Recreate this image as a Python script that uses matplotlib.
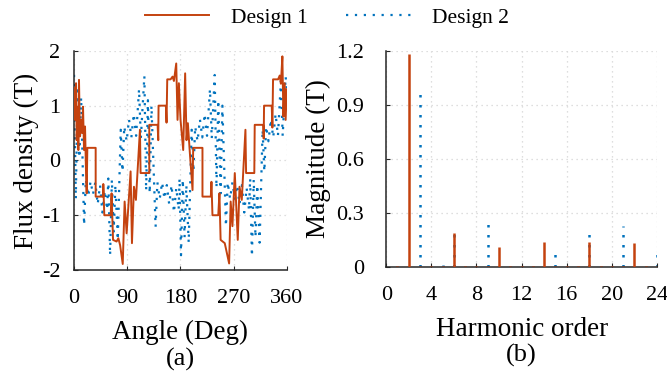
import matplotlib
matplotlib.use("Agg")
import matplotlib.pyplot as plt
from matplotlib.lines import Line2D

plt.rcParams['font.family'] = ['Liberation Serif', 'DejaVu Serif']
plt.rcParams['axes.unicode_minus'] = False

# design 1 (solid) air-gap flux density
d1_angle = [0, 1.7, 3.4, 4.5, 6.2, 7.3, 8.4, 10, 11.8, 13.5, 15.2, 16.9, 18.6, 20.3, 21.4,
            22.5, 36.6, 36.6, 49.5, 49.5, 51.2, 62, 63.5, 66, 72, 75, 78, 82.4, 85.6, 89,
            95.7, 98, 101.4, 104.7, 111.5, 112.6, 127.3, 127.3, 141.4, 142.5, 143, 155.4,
            156.5, 157.7, 163.3, 166.7, 169, 172.9, 175.1, 177.4, 180.2, 184.7, 188, 190.3,
            192.6, 196, 200.5, 201.6, 217.3, 217.3, 231.4, 232.5, 234.2, 244, 246, 248, 255,
            262.4, 265, 268, 272, 277, 280, 283.8, 290, 291.1, 305, 305.7, 320, 320.9, 321.5,
            334.5, 335.6, 336.7, 345.2, 348, 350, 352.5, 354.2, 356.4, 358, 360]
d1_flux = [1.32, 0.74, 1.41, 0.37, 0.98, 0.19, 1.47, 0.44, 0.74, 0.5, 0.98, 0.19, 0.62, -0.23, -0.6,
           0.23, 0.23, -0.66, -0.66, -0.43, -1.0, -1.0, -0.6, -1.45, -1.48, -1.42, -1.55, -1.89, -0.75, -1.33,
           -0.2, -1.51, -0.48, -0.72, 0.56, -0.23, -0.23, 0.65, 0.65, 0.37, 1.0, 1.0,
           0.69, 1.48, 1.48, 1.53, 1.45, 1.77, 0.74, 1.41, 0.74, 0.19, 1.59, 0.37,
           0.68, 0.13, -0.54, 0.23, 0.23, -0.66, -0.66, -0.39, -1.0, -1.0, -0.6, -1.45, -1.51,
           -1.88, -0.75, -1.2, -0.23, -1.45, -0.48, -0.72, 0.56, -0.23, -0.23, 0.65, 0.65, 0.4, 1.0,
           1.0, 0.6, 1.48, 1.48, 1.55, 1.4, 1.9, 0.8, 1.41, 0.74, 1.3]

# design 2 (dotted)
d2_angle = [0, 3, 6, 9, 12, 17, 20, 24, 28, 32, 36, 40, 44, 48, 52, 56, 58, 61, 64, 67, 70, 74,
            79, 82, 85, 89, 93, 97, 101, 105, 110, 113, 119,
            122, 125, 128, 131, 138, 141, 145, 149, 153, 157, 161, 165, 169, 173, 177, 178.5,
            181, 184, 187, 190, 194, 199, 202, 205, 209, 213, 217, 221, 225, 230, 233, 238,
            241, 244, 248, 251, 257, 260, 264, 268, 272, 276, 280, 284, 288, 292, 296, 298,
            301, 304, 307, 310, 314, 319, 322, 325, 329, 333, 337, 341, 345, 350, 353, 358, 360]
d2_flux = [1.56, -0.70, 1.35, 0.05, 1.15, -1.18, -0.35, -0.65, -0.38, -0.62, -0.40, -0.80, -0.45, -0.95, -0.55, -0.90, -0.33, -1.73, -0.35, -1.30, -0.45, -1.45,
           0.56, -0.20, 0.62, 0.35, 0.75, 0.42, 0.85, 0.45, 1.30, 0.40, 1.54,
           -0.55, 1.10, -0.60, 1.00, -1.21, -0.40, -0.70, -0.40, -0.70, -0.45, -0.80, -0.45, -0.95, -0.50, -0.90, -0.33,
           -1.73, -0.35, -1.40, -0.45, -1.50, 0.56, -0.20, 0.62, 0.35, 0.75, 0.42, 0.85, 0.45, 1.30, 0.40, 1.56,
           -0.50, 1.10, -0.60, 1.00, -1.20, -0.40, -0.70, -0.40, -0.70, -0.45, -0.80, -0.45, -0.95, -0.50, -0.90, -0.33,
           -1.75, -0.35, -1.40, -0.45, -1.50, 0.56, -0.20, 0.62, 0.35, 0.75, 0.42, 0.85, 0.45, 1.45, 0.45, 1.53, 1.30]

# harmonic spectrum
harmonic = list(range(25))
d1_mag = [0, 0.004, 1.18, 0.004, 0.008, 0.004, 0.19, 0.004, 0.008, 0.004, 0.11, 0.004, 0.008,
          0.004, 0.14, 0.004, 0.008, 0.004, 0.14, 0.004, 0.008, 0.004, 0.135, 0.004, 0.008]
d2_mag = [0, 0.004, 0.004, 0.99, 0.004, 0.012, 0.20, 0.004, 0.004, 0.27, 0.004, 0.008, 0.004,
          0.004, 0.004, 0.10, 0.004, 0.004, 0.19, 0.004, 0.004, 0.23, 0.004, 0.004, 0.10]

angle_ticks = [0, 90, 180, 270, 360]
flux_ticks = [-2, -1, 0, 1, 2]
order_ticks = [0, 4, 8, 12, 16, 20, 24]
mag_ticks = [0, 0.3, 0.6, 0.9, 1.2]
mag_labels = ['0', '0.3', '0.6', '0.9', '1.2']

red = '#C4420F'
blue = '#0072BD'
dark = '#262626'
dots = (0, (1, 3))

fig = plt.figure(figsize=(6.67, 3.74), dpi=100)
ax1 = fig.add_axes([0.111, 0.278, 0.319, 0.586])
ax2 = fig.add_axes([0.579, 0.286, 0.406, 0.578])


def style(ax):
    for s in ['top', 'right']:
        ax.spines[s].set_visible(False)
    for s in ['left', 'bottom']:
        ax.spines[s].set_color(dark)
        ax.spines[s].set_linewidth(1.1)
    ax.grid(True, color='#d4d4d4', linestyle=(0, (1, 3)), linewidth=0.9)
    ax.set_axisbelow(True)
    ax.tick_params(direction='in', length=3, width=0.8, color=dark,
                   labelsize=16, pad=14, labelcolor='black')


ax1.plot(d1_angle, d1_flux, color=red, lw=1.4, zorder=3)
ax1.plot(d2_angle, d2_flux, color=blue, lw=1.6, linestyle=dots, zorder=2)
ax1.set_xlim(0, 360)
ax1.set_ylim(-2, 2)
ax1.set_xticks(angle_ticks)
ax1.set_yticks(flux_ticks)
style(ax1)
ax1.tick_params(axis='y', pad=10)
ax1.set_xlabel('Angle (Deg)', fontsize=19.5, labelpad=8)
ax1.set_ylabel('Flux density (T)', fontsize=19.5, labelpad=2)

ax2.vlines(harmonic, 0, d2_mag, color=blue, lw=1.8, linestyle=dots, zorder=2)
ax2.vlines(harmonic, 0, d1_mag, color=red, lw=1.8, zorder=3)
ax2.set_xlim(0, 24)
ax2.set_ylim(0, 1.2)
ax2.set_xticks(order_ticks)
ax2.set_yticks(mag_ticks, mag_labels)
style(ax2)
ax2.tick_params(axis='y', pad=16)
ax2.set_xlabel('Harmonic order', fontsize=19.5, labelpad=8)
ax2.set_ylabel('Magnitude (T)', fontsize=19.5, labelpad=4)

fig.text(0.27, 0.008, '(a)', ha='center', va='bottom', fontsize=19)
fig.text(0.782, 0.02, '(b)', ha='center', va='bottom', fontsize=19)

handles = [Line2D([], [], color=red, lw=1.4),
           Line2D([], [], color=blue, lw=1.6, linestyle=dots)]
fig.legend(handles, ['Design 1', 'Design 2'], loc='center', bbox_to_anchor=(0.49, 0.952),
           ncol=2, frameon=False, fontsize=15.5, handlelength=3.0, columnspacing=1.8,
           handletextpad=1.0)

fig.savefig('out.png', dpi=100)
